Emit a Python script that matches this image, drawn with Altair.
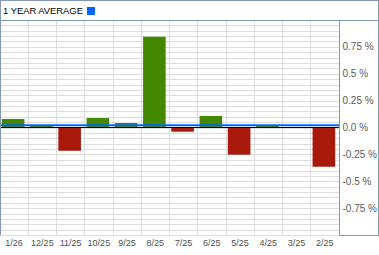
import altair as alt
import pandas as pd

MONTHS = ["1/26", "12/25", "11/25", "10/25", "9/25", "8/25", "7/25", "6/25", "5/25", "4/25", "3/25", "2/25"]
VALUES = [0.079, 0.014, -0.216, 0.088, 0.042, 0.845, -0.039, 0.107, -0.253, 0.017, 0.0, -0.365]
AVERAGE = 0.022
TITLE = "1 YEAR AVERAGE"
Y_LABELS = [-0.75, -0.5, -0.25, 0.0, 0.25, 0.5, 0.75]
GRID_VALUES = [round(-1 + 0.05 * k, 2) for k in range(41)]

GREEN = "#448800"
RED = "#a8190c"
BLUE = "#0066ff"
BORDER = "#8597b6"
GRID = "#dddddd"
FONT = "Liberation Sans"

df = pd.DataFrame({"month": MONTHS, "value": VALUES})
df["sign"] = ["pos" if v >= 0 else "neg" for v in VALUES]
one = pd.DataFrame({"k": [0]})

label_list = "[" + ",".join(str(v) for v in Y_LABELS) + "]"
label_expr = (
    "datum.value == 0 ? '0.0 %' : (indexof(" + label_list + ", datum.value) >= 0 ? datum.value + ' %' : '')"
)

yscale = alt.Scale(domain=[-1, 1], nice=False, zero=False)
yaxis = alt.Axis(
    orient="right", values=GRID_VALUES, labelExpr=label_expr, grid=True,
    gridColor=GRID, gridWidth=1, ticks=False, domain=False, title=None,
    labelFont=FONT, labelFontSize=10, labelColor="#5a5a5a", labelPadding=3,
    labelOverlap=False, labelFlush=False, labelBaseline="middle",
)

x_enc = alt.X(
    "month:N",
    sort=MONTHS,
    scale=alt.Scale(paddingInner=0, paddingOuter=0),
    axis=alt.Axis(
        title=None, grid=True, bandPosition=0, gridColor=GRID, gridWidth=1,
        ticks=False, domain=False, labelAngle=0, labelFont=FONT, labelFontSize=9,
        labelColor="#505050", labelPadding=3,
    ),
)

bars = alt.Chart(df).mark_bar(width=alt.RelativeBandSize(0.8), xOffset=-1).encode(
    x=x_enc,
    y=alt.Y("value:Q", scale=yscale, axis=yaxis),
    color=alt.Color("sign:N", scale=alt.Scale(domain=["pos", "neg"], range=[GREEN, RED]), legend=None),
)

zero = alt.Chart(one).mark_rule(color="black", strokeWidth=1).encode(
    y=alt.datum(0, scale=yscale, axis=yaxis)
)
avg = alt.Chart(one).mark_rule(color=BLUE, strokeWidth=2).encode(
    y=alt.datum(AVERAGE, scale=yscale, axis=yaxis)
)


def line(x1, x2, y1, y2):
    return alt.Chart(one).mark_rule(color=BORDER, strokeWidth=1).encode(
        x=alt.value(x1), x2=alt.value(x2), y=alt.value(y1), y2=alt.value(y2)
    )


borders = [
    line(0, 379, -19.5, -19.5),
    line(0, 379, 0.5, 0.5),
    line(0.5, 0.5, -20, 215),
    line(378.5, 378.5, -20, 215.5),
    line(339.5, 339.5, 0, 215.5),
    line(339, 379, 215.5, 215.5),
]

title = alt.Chart(one).mark_text(
    align="left", baseline="alphabetic", font=FONT, fontSize=9.4, color="black"
).encode(x=alt.value(3), y=alt.value(-6.5), text=alt.value(TITLE))

square = alt.Chart(one).mark_rect(color=BLUE).encode(
    x=alt.value(87), x2=alt.value(95), y=alt.value(-13), y2=alt.value(-5)
)

chart = alt.layer(bars, zero, avg, *borders, title, square).properties(
    width=339, height=215, autosize="none",
    padding={"left": 0, "top": 20, "right": 40, "bottom": 20},
    background="white",
).configure_view(stroke=None)

chart.save("out.html", embed_options={"renderer": "svg", "actions": False})
